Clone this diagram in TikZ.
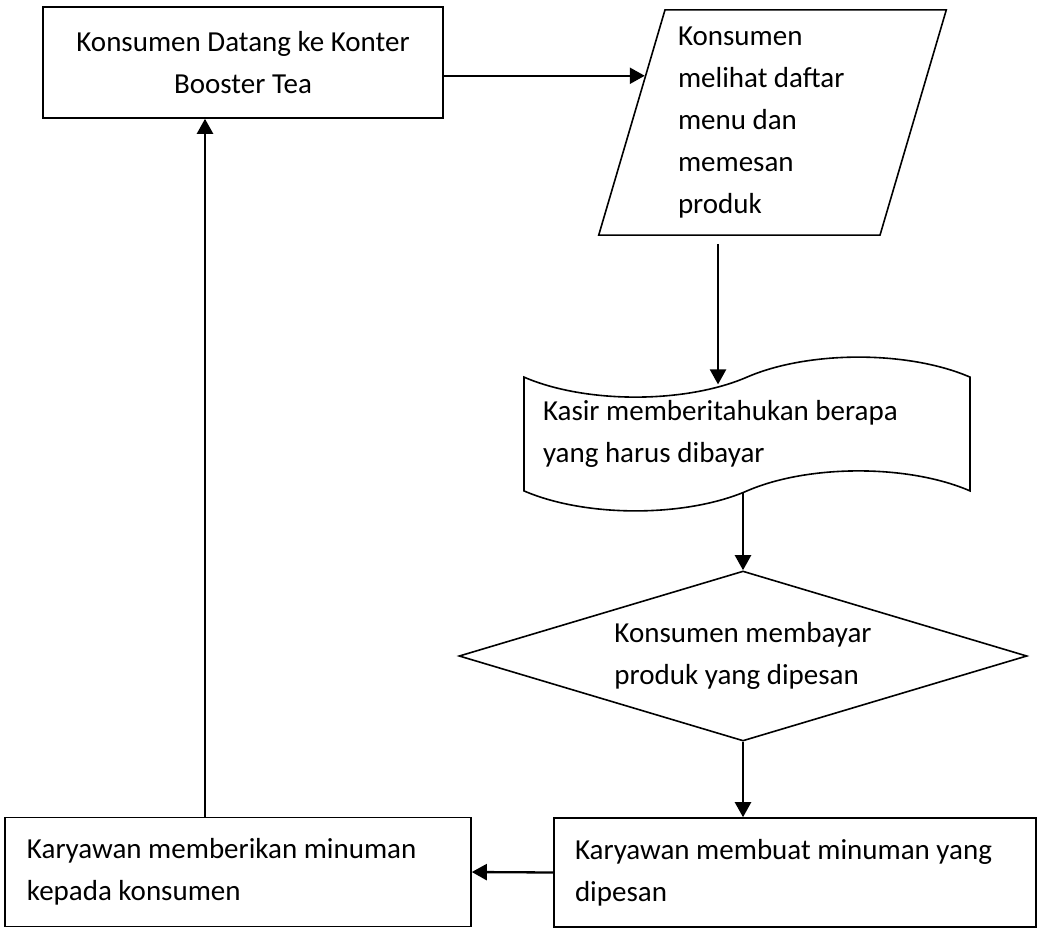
\documentclass[tikz,border=0pt]{standalone}
\usepackage{fontspec}
\setmainfont{Carlito}
\usetikzlibrary{arrows.meta,calc,shapes.geometric,shapes.symbols}

\begin{document}
\begin{tikzpicture}[x=1pt,y=-1pt,
    every node/.style={font=\fontsize{29pt}{42pt}\selectfont},
    box/.style={draw,line width=1.6pt,rectangle,minimum height=109pt},
    io/.style={draw,line width=1.6pt,trapezium,trapezium left angle=73.6,
      trapezium right angle=106.4,inner xsep=13pt,inner ysep=17pt,
      text width=189pt,align=flush left},
    bill/.style={draw,line width=1.6pt,tape,minimum width=446pt,
      minimum height=148pt,tape bend height=40pt,text width=408pt,
      align=flush left},
    decision/.style={draw,line width=1.6pt,diamond,aspect=3.34,inner sep=0pt,
      minimum width=568pt,minimum height=170pt,align=flush left},
    arrow/.style={->,line width=2.3pt},
    >={Triangle[length=15pt,width=16pt]}]
  \useasboundingbox (0,0) rectangle (1041,929);
  % shapes
  \node[box,minimum width=400pt,minimum height=111pt,align=center] (order)
    at (243,62.5) {Konsumen Datang ke Konter\\Booster Tea};
  \node[io] (menu) at (772.5,122.5)
    {Konsumen\\melihat daftar\\menu dan\\memesan\\produk};
  \node[bill] (bill) at (747,434) {Kasir memberitahukan berapa\\yang harus dibayar};
  \node[decision] (pay) at (743,656) {Konsumen membayar\\produk yang dipesan};
  \node[box,minimum width=482pt,inner xsep=21pt,text width=440pt,
    align=flush left] (make) at (795,872.5)
    {Karyawan membuat minuman yang\\dipesan};
  \node[box,minimum width=466pt,inner xsep=22pt,text width=422pt,
    align=flush left] (give) at (238,872)
    {Karyawan memberikan minuman\\kepada konsumen};
  % connectors
  \coordinate (menuin) at ($(menu.bottom left corner)!0.706!(menu.top left corner)$);
  \draw[arrow] (order.east |- menuin) -- (menuin);
  \draw[arrow] ($(menu.south)+(-54.5,8)$) -- ($(menu.south |- bill.north)+(-54.5,8)$);
  \draw[arrow] (pay.north |- bill.south) -- (pay.north);
  \draw[arrow] (pay.south) -- (pay.south |- make.north);
  \draw[arrow] (make.west) -- (give.east);
  \draw[arrow] ($(give.north)+(-33,0)$) -- ($(give.north |- order.south)+(-33,0)$);
\end{tikzpicture}
\end{document}
